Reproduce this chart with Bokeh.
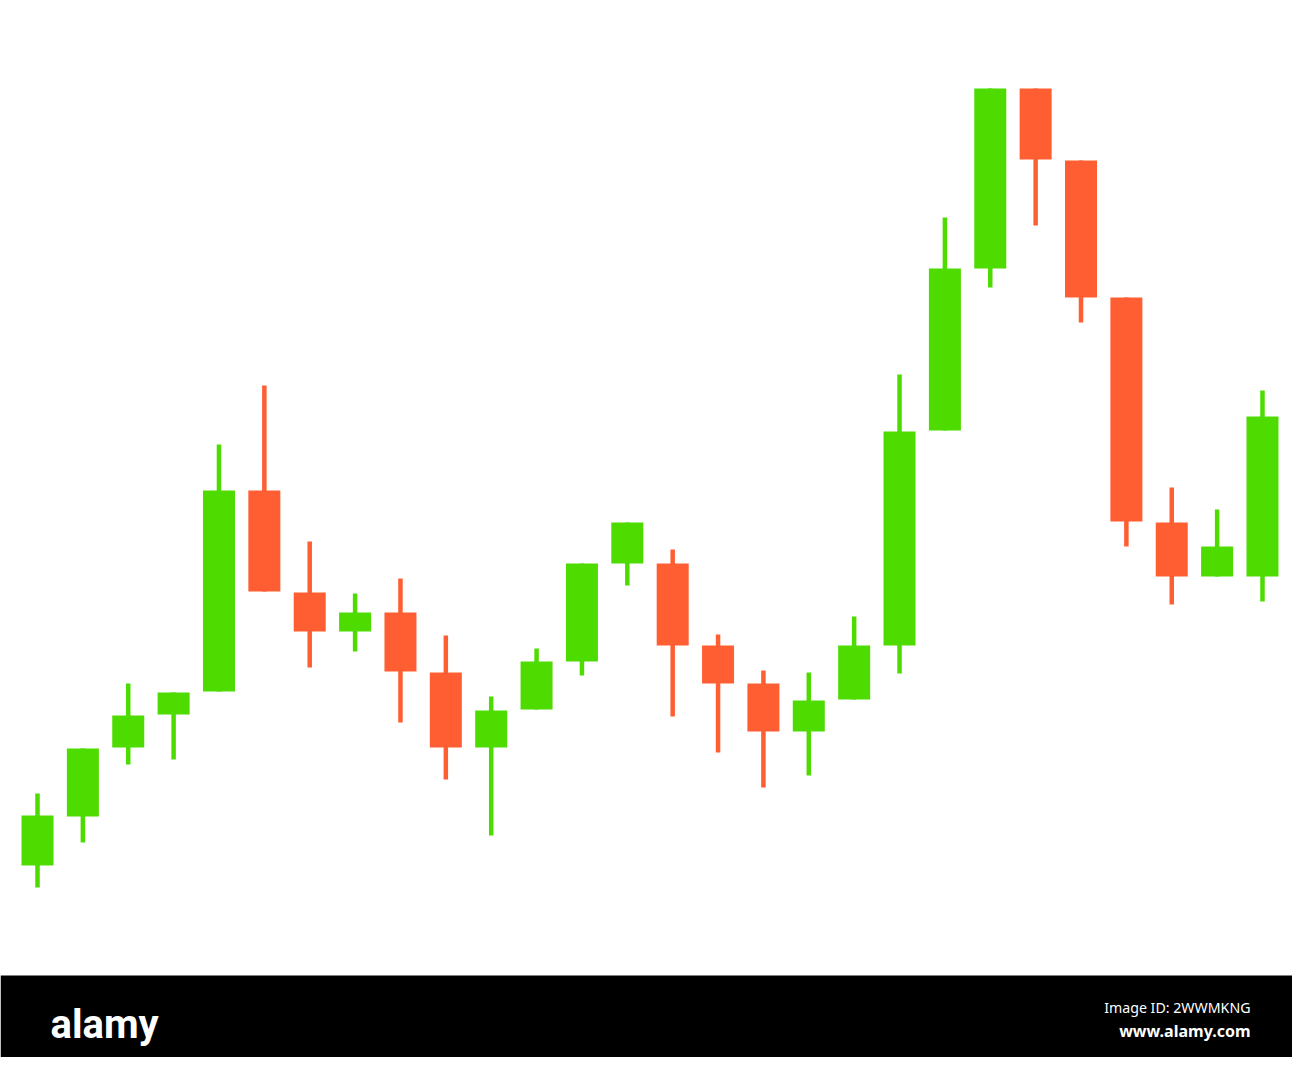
from bokeh.plotting import figure
from bokeh.models import ColumnDataSource, Range1d, BoxAnnotation, Label
from bokeh.embed import file_html
from bokeh.resources import INLINE

# ---- data (price units) ----
opens  = [11.0, 15.9, 22.8, 26.1, 28.4, 48.5, 38.3, 34.4, 36.3, 30.3, 22.8, 26.6, 31.4, 41.2,
          41.2, 33.0, 29.2, 24.4, 27.6, 33.0, 54.5, 70.7, 88.7, 81.5, 67.8, 45.3, 39.9, 39.9]
highs  = [18.2, 22.7, 29.2, 28.3, 53.1, 59.0, 43.4, 38.2, 39.7, 34.0, 27.9, 32.7, 41.2, 45.3,
          42.6, 34.1, 30.5, 30.3, 35.9, 60.1, 75.8, 88.7, 88.7, 81.5, 67.8, 48.8, 46.6, 58.5]
lows   = [8.8, 13.3, 21.1, 21.6, 28.4, 38.4, 30.8, 32.4, 25.3, 19.6, 14.0, 26.6, 30.0, 39.0,
          25.9, 22.3, 18.8, 20.0, 27.6, 30.2, 54.5, 68.8, 75.0, 65.3, 42.9, 37.1, 39.9, 37.4]
closes = [16.0, 22.7, 26.0, 28.3, 48.5, 38.4, 34.4, 36.3, 30.4, 22.8, 26.5, 31.4, 41.2, 45.3,
          33.0, 29.2, 24.4, 27.5, 33.0, 54.4, 70.7, 88.7, 81.6, 67.8, 45.4, 39.9, 42.9, 55.9]

UP = "#4DDB00"
DOWN = "#FF5E33"

idx = list(range(len(opens)))
colors = [UP if c >= o else DOWN for o, c in zip(opens, closes)]
tops = [max(o, c) for o, c in zip(opens, closes)]
bottoms = [min(o, c) for o, c in zip(opens, closes)]

src = ColumnDataSource(dict(x=idx, open=opens, high=highs, low=lows, close=closes,
                            top=tops, bottom=bottoms, color=colors))

W, H = 1292, 1057
STEP = 45.37          # pixels per candle
X0 = 37.0             # pixel of first candle centre
x_start = -X0 / STEP
x_end = (W - X0) / STEP
# price = (975 - y_px)/10
y_top = 975 / 10.0
y_bot = (975 - H) / 10.0

p = figure(width=W, height=H, output_backend="svg", toolbar_location=None,
           x_range=Range1d(x_start, x_end), y_range=Range1d(y_bot, y_top),
           x_axis_location=None, y_axis_location=None, min_border=0)
p.outline_line_color = None
p.xgrid.visible = False
p.ygrid.visible = False
p.background_fill_color = "white"
p.border_fill_color = "white"

p.segment(x0="x", y0="low", x1="x", y1="high", source=src, line_color="color", line_width=4.5)
p.vbar(x="x", top="top", bottom="bottom", width=32 / STEP, source=src,
       fill_color="color", line_color=None)

# footer band
p.add_layout(BoxAnnotation(top=0, fill_color="black", fill_alpha=1.0, line_color=None, level="overlay"))

def fx(xref):
    return (xref - X0) / STEP

def fy(yref):
    return (975 - yref) / 10.0

p.add_layout(Label(x=fx(50), y=fy(1024), text="alamy", text_color="white",
                   text_font="Roboto", text_font_style="bold",
                   text_font_size="40px", text_baseline="alphabetic", text_align="left",
                   level="overlay"))
p.add_layout(Label(x=fx(1250), y=fy(1007), text="Image ID: 2WWMKNG", text_color="white",
                   text_font="Noto Sans", text_font_size="14.2px",
                   text_baseline="alphabetic", text_align="right", level="overlay"))
p.add_layout(Label(x=fx(1250), y=fy(1030), text="www.alamy.com", text_color="white",
                   text_font="Noto Sans", text_font_style="bold", text_font_size="16px",
                   text_baseline="alphabetic", text_align="right", level="overlay"))

open("out.html", "w").write(file_html(p, INLINE))
